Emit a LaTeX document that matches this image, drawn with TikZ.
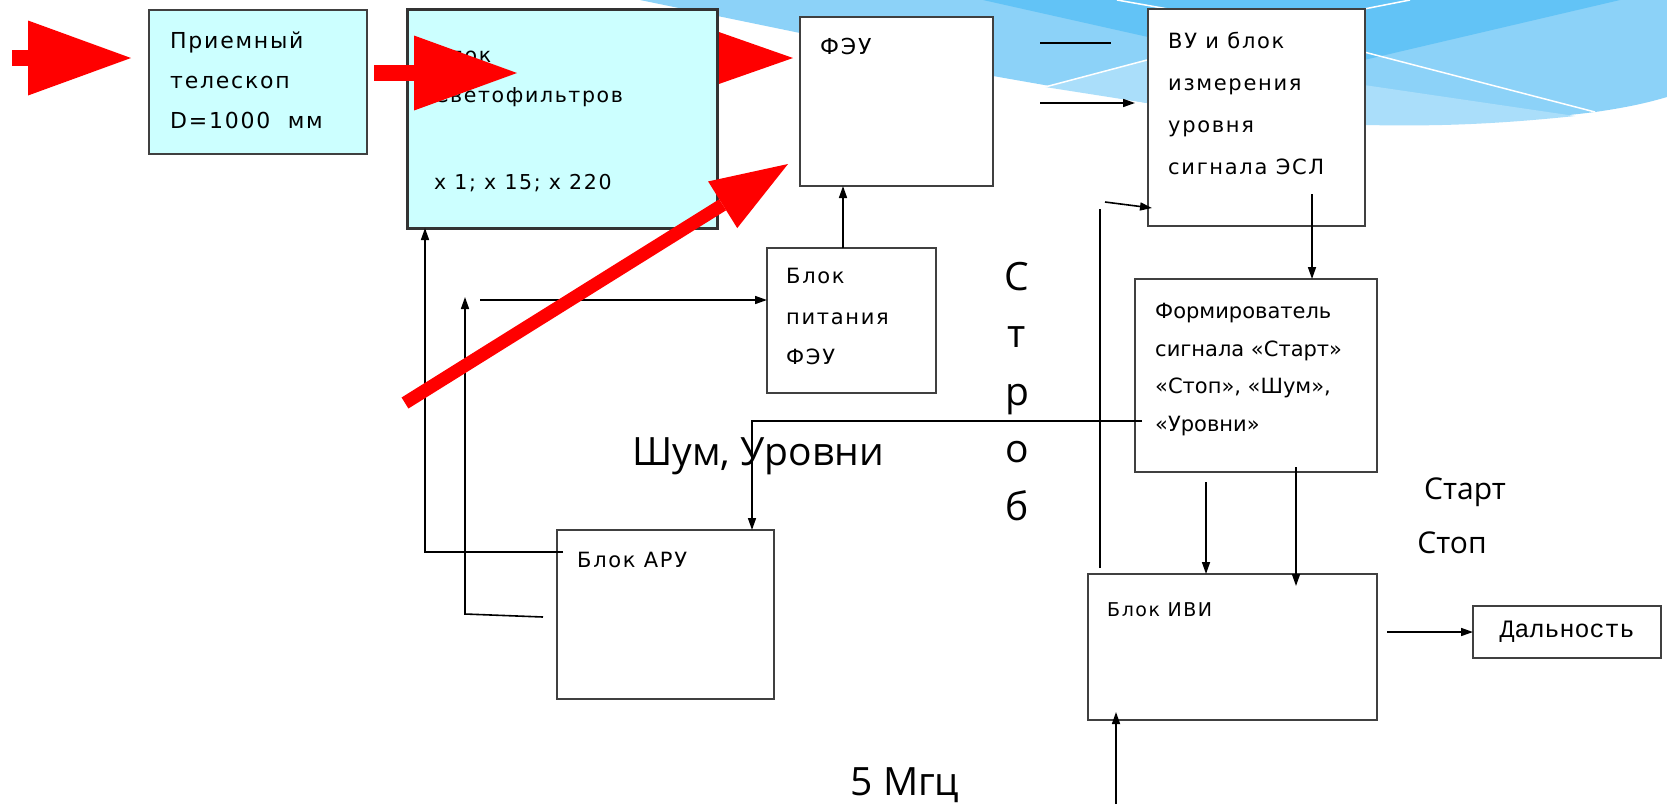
\documentclass[tikz,border=0pt]{standalone}
\usepackage{fontspec}
\setmainfont{Open Sans}
\newfontfamily\boxfont[LetterSpace=8]{DejaVu Sans}
\newfontfamily\formfont{DejaVu Sans}
\newfontfamily\distfont{Liberation Mono}
\usepackage{tikz}
\usetikzlibrary{arrows.meta,positioning,backgrounds}
\definecolor{boxline}{RGB}{64,64,64}
\definecolor{filtcyan}{RGB}{204,255,255}
\definecolor{swdark}{RGB}{98,195,246}
\definecolor{swmid}{RGB}{140,210,248}
\definecolor{swlight}{RGB}{170,222,250}

\begin{document}
\begin{tikzpicture}[x=1pt, y=-1pt,
  box/.style={draw=boxline, line width=1.5, fill=white, inner sep=0, outer sep=0, anchor=north west},
  filtbox/.style={box, draw=black!80, line width=3, fill=filtcyan},
  txt/.style={anchor=north west, inner sep=0, align=left, font=\boxfont\fontsize{22}{40}\selectfont},
  lbl/.style={inner sep=0, font=\fontsize{39}{57.5}\selectfont},
  small lbl/.style={inner sep=0, font=\fontsize{30}{36}\selectfont},
  wire/.style={line width=1.6},
  arr/.style={wire, -{Triangle[length=12pt, width=8pt]}},
  flow/.style={red, line width=16, -{Triangle[length=103pt, width=75pt, line width=0pt]}},
  thin flow/.style={red, line width=13, -{Triangle[length=77pt, width=55pt, line width=0pt]}}
]
\useasboundingbox (0,0) rectangle (1667,804);

% blocks
\node[box, fill=filtcyan, minimum width=218, minimum height=144] (tele) at (149,10) {};
\node[filtbox, minimum width=310, minimum height=219] (filt) at (407,9) {};
\node[box, minimum width=193, minimum height=169] (feu) at (800,17) {};
\node[box, minimum width=217, minimum height=217] (vu) at (1148,9) {};
\node[box, minimum width=169, minimum height=145] (pwr) at (767,248) {};
\node[box, minimum width=242, minimum height=193] (form) at (1135,279) {};
\node[box, minimum width=217, minimum height=169] (aru) at (557,530) {};
\node[box, minimum width=289, minimum height=146] (ivi) at (1088,574) {};
\node[box, minimum width=188, minimum height=52, font=\distfont\fontsize{25}{30}\selectfont] (dist) at (1473,606) {Дальность};

% block texts
\node[txt, below right=22pt and 21pt of tele.north west] (tele txt) {Приемный\\телескоп\\D=1000\ \ мм};
\node[txt, font=\boxfont\fontsize{20.5}{40}\selectfont, below right=38pt and 27pt of filt.north west] (filt txt) {Блок\\Светофильтров\\[47pt]x 1; x 15; x 220};
\node[txt, below right=21pt and 20pt of feu.north west] (feu txt) {ФЭУ};
\node[txt, font=\boxfont\fontsize{21}{42}\selectfont, below right=23pt and 20pt of vu.north west] (vu txt) {ВУ и блок\\измерения\\уровня\\сигнала ЭСЛ};
\node[txt, font=\boxfont\fontsize{21}{40.5}\selectfont, below right=20pt and 19pt of pwr.north west] (pwr txt) {Блок\\питания\\ФЭУ};
\node[txt, font=\formfont\fontsize{21}{37.7}\selectfont, below right=24pt and 20pt of form.north west] (form txt) {Формирователь\\сигнала «Старт»\\«Стоп», «Шум»,\\«Уровни»};
\node[txt, font=\boxfont\fontsize{21}{40}\selectfont, below right=22pt and 20pt of aru.north west] (aru txt) {Блок АРУ};
\node[txt, font=\boxfont\fontsize{19}{40}\selectfont, below right=28pt and 19pt of ivi.north west] (ivi txt) {Блок ИВИ};

% free ends
\coordinate (sky) at (12,58);
\coordinate (tele out) at (374,73);
\coordinate (filt in) at (517,73);
\coordinate (filt out) at (640,58);
\coordinate (scatter) at (405,403);
\coordinate (feu side) at (788,164);
\coordinate (feu tap a) at (1040,43);
\coordinate (feu tap b) at (1040,103);
\coordinate (strob top) at (1100,209);
\coordinate (strob bot) at (1100,568);
\coordinate (strob kink) at (1105,202);
\coordinate (clk) at (1116,804);
\coordinate (aru fb) at (480,300);
\coordinate (aru tap) at (543,617);
\coordinate (aru bend) at (465,614);
\coordinate (aru top) at (465,297);

% connectors
\draw[wire, shorten >=37] (feu tap a) -- (feu tap a -| vu.west);
\draw[arr, shorten >=13] (feu tap b) -- (feu tap b -| vu.west);
\draw[wire] (strob bot) -- (strob top);
\draw[arr] (strob kink) -- ([xshift=4, yshift=-199]vu.north west);
\draw[arr] ([xshift=164, yshift=32]vu.south west) -- ([xshift=177]form.north west);
\draw[arr] ([xshift=7, yshift=-142]form.north west) -| ([xshift=195]aru.north west);
\draw[arr] ([xshift=71, yshift=-10]form.south west) -- ([xshift=118]ivi.north west);
\draw[arr] ([xshift=161, yshift=5]form.south west) -- ([xshift=208, yshift=-12]ivi.north west);
\draw[arr, shorten <=10] (ivi.east |- dist.west) -- (dist.west);
\draw[arr, shorten >=-8] (clk) -- (clk |- ivi.south);
\draw[arr] ([xshift=-8.5]pwr.north) -- ([xshift=-53.5]feu.south);
\draw[arr] (aru fb) -- (aru fb -| pwr.west);
\draw[arr] (aru tap) -- (aru bend) -- (aru top);
\draw[arr] ([xshift=6, yshift=-22]aru.north west) -| ([xshift=18]filt.south west);

% labels
\node[lbl] (noise lbl) at (758,456) {Шум, Уровни};
\node[lbl, anchor=north, align=center] (strob lbl) at (1017,262) {С\\т\\р\\о\\б};
\node[lbl] (clk lbl) at (905,785) {5 Мгц};
\node[small lbl] (start lbl) at (1465,492) {Старт};
\node[small lbl] (stop lbl) at (1452,543) {Стоп};

% light
\draw[flow, shorten >=18] (sky) -- (sky -| tele.west);
\draw[flow] (tele out) -- (filt in);
\draw[thin flow] (scatter) -- (feu side);

\begin{pgfonlayer}{background}
  \fill[white] (0,0) rectangle (1667,804);
  \fill[swmid] (640,0) -- (800,33) -- (993,76) -- (1147,103) .. controls (1300,128) and (1450,130) .. (1595,112) .. controls (1630,107) and (1650,102) .. (1667,97) -- (1667,0) -- cycle;
  \fill[swlight] (1045,87) -- (1147,60) -- (1147,103) -- cycle;
  \fill[swlight] (1364,85) -- (1575,116) .. controls (1480,126) and (1420,126) .. (1364,125) -- cycle;
  \fill[swdark] (983,0) -- (1148,37) -- (1364,60) -- (1620,0) -- cycle;
  \draw[white, line width=1.5] (1045,87) -- (1147,60);
  \draw[white, line width=1.5] (1364,52) -- (1595,112);
  \draw[white, line width=1.5] (1117,0) -- (1168,9);
  \draw[white, line width=1.5] (1364,9) -- (1410,0);
  \draw[flow, -{Triangle[length=77pt, width=54pt, line width=0pt]}, shorten >=7] (filt out) -- (filt out -| feu.west);
\end{pgfonlayer}
\end{tikzpicture}
\end{document}
